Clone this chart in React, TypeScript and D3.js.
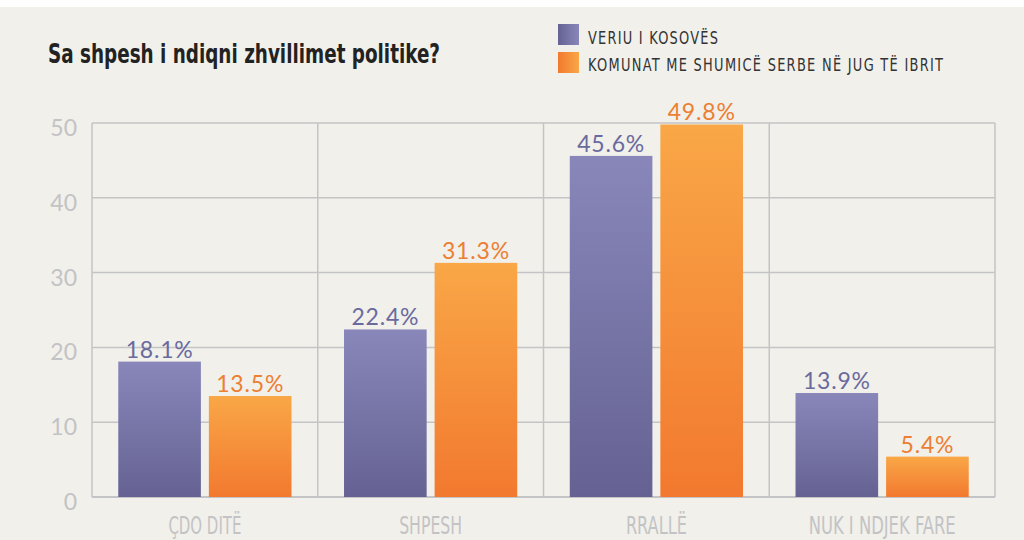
import React from "react";
import * as d3 from "d3";

const categories = ["ÇDO DITË", "SHPESH", "RRALLË", "NUK I NDJEK FARE"];
const categoryWidths = [73, 63, 61, 147];
const seriesNames = ["VERIU I KOSOVËS", "KOMUNAT ME SHUMICË SERBE NË JUG TË IBRIT"];
const legendWidths = [130, 355];
const veriu = [18.1, 22.4, 45.6, 13.9];
const komunat = [13.5, 31.3, 49.8, 5.4];
const yTicks = [0, 10, 20, 30, 40, 50];
const title = "Sa shpesh i ndiqni zhvillimet politike?";

const W = 1024, H = 540;
const M = { left: 92, right: 995, top: 123, bottom: 497 };

export default function App() {
  const x = d3.scaleBand<string>().domain(categories).range([M.left, M.right]).paddingInner(0).paddingOuter(0);
  const inner = d3.scaleBand<string>().domain(["a", "b"]).range([0, x.bandwidth()]).paddingOuter(0.29).paddingInner(0.088);
  const y = d3.scaleLinear().domain([0, 50]).range([M.bottom, M.top]);
  const series = [veriu, komunat];
  const fills = ["url(#gPurple)", "url(#gOrange)"];
  const labelColors = ["#6a6a9e", "#ec7f32"];
  const condensed = "'DejaVu Sans Condensed', 'Liberation Sans Narrow', sans-serif";
  const valFont = "Lato, 'Open Sans', sans-serif";
  const legScale = 0.8;
  return (
    <svg width={W} height={H} style={{ position: "absolute", left: 0, top: 0, display: "block" }}>
      <defs>
        <linearGradient id="gPurple" x1="0" y1="0" x2="0" y2="1">
          <stop offset="0" stopColor="#8987ba" />
          <stop offset="1" stopColor="#656293" />
        </linearGradient>
        <linearGradient id="gOrange" x1="0" y1="0" x2="0" y2="1">
          <stop offset="0" stopColor="#f9a747" />
          <stop offset="1" stopColor="#f2792f" />
        </linearGradient>
        <linearGradient id="lPurple" x1="0" y1="0" x2="1" y2="0">
          <stop offset="0" stopColor="#656293" />
          <stop offset="1" stopColor="#8987ba" />
        </linearGradient>
        <linearGradient id="lOrange" x1="0" y1="0" x2="1" y2="0">
          <stop offset="0" stopColor="#f2792f" />
          <stop offset="1" stopColor="#f9a747" />
        </linearGradient>
      </defs>
      <rect x={0} y={0} width={W} height={H} fill="#ffffff" />
      <rect x={0} y={7} width={W} height={H - 7} fill="#f1f0eb" />
      <text x={48} y={63} fontFamily={condensed} fontWeight="bold" fontSize={27} fill="#222" textLength={392} lengthAdjust="spacingAndGlyphs">{title}</text>
      {seriesNames.map((s, i) => (
        <g key={s}>
          <rect x={558} y={24 + i * 28} width={21} height={21} fill={i === 0 ? "url(#lPurple)" : "url(#lOrange)"} />
          <g transform={`translate(588,${43.5 + i * 27.5}) scale(${legScale},1)`}>
            <text x={0} y={0} fontFamily={condensed} fontSize={18} fill="#333" textLength={legendWidths[i] / legScale} lengthAdjust="spacing">{s}</text>
          </g>
        </g>
      ))}
      {yTicks.map((t) => (
        <g key={t}>
          <line x1={M.left} x2={M.right} y1={y(t)} y2={y(t)} stroke="#c4c4c6" strokeWidth={t === 0 ? 2 : 1.5} />
          <text x={77} y={y(t) + 13} textAnchor="end" fontFamily={valFont} fontSize={23} fill="#c3c3c5">{t}</text>
        </g>
      ))}
      {[...categories.map((c) => x(c) as number), M.right].map((xx, i) => (
        <line key={i} x1={xx} x2={xx} y1={M.top} y2={M.bottom} stroke="#c4c4c6" strokeWidth={1.5} />
      ))}
      {categories.map((c, ci) => (
        <g key={c}>
          {series.map((vals, si) => {
            const bx = (x(c) as number) + (inner(si === 0 ? "a" : "b") as number);
            const bw = inner.bandwidth();
            return (
              <g key={si}>
                <rect x={bx} y={y(vals[ci])} width={bw} height={y(0) - y(vals[ci])} fill={fills[si]} />
                <text x={bx + bw / 2} y={y(vals[ci]) - 4} textAnchor="middle" fontFamily={valFont} fontSize={23} letterSpacing={0.8} fill={labelColors[si]}>
                  {vals[ci].toFixed(1)}%
                </text>
              </g>
            );
          })}
          <text x={(x(c) as number) + x.bandwidth() / 2 - categoryWidths[ci] / 2} y={534} fontFamily={condensed} fontSize={24} fill="#c3c3c5" textLength={categoryWidths[ci]} lengthAdjust="spacingAndGlyphs">{c}</text>
        </g>
      ))}
    </svg>
  );
}
